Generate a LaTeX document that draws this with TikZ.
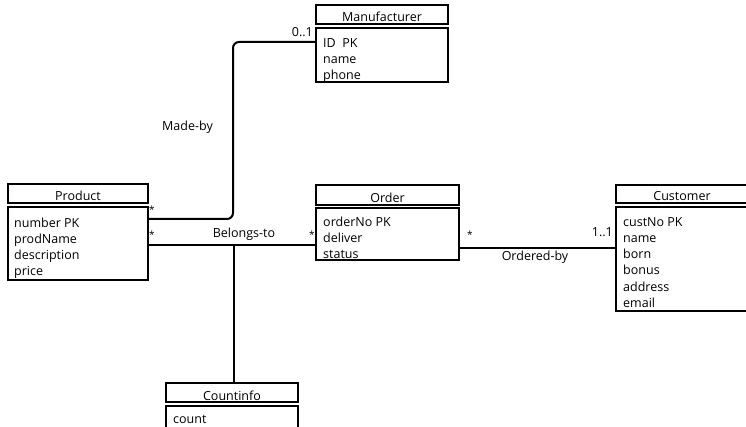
\documentclass[tikz,border=0pt]{standalone}
\usepackage{fontspec}
\setmainfont{Open Sans}
\begin{document}
\begin{tikzpicture}[x=1pt,y=-1pt,
  box/.style={draw, line width=2.5pt, rectangle, inner sep=0pt, outer sep=0pt, anchor=north west},
  txt/.style={inner sep=0pt, anchor=base west, font=\fontsize{12.5}{15}\selectfont},
  ttl/.style={inner sep=0pt, anchor=base, font=\fontsize{12.5}{15}\selectfont},
  lbl/.style={inner sep=0pt, font=\fontsize{12.5}{15}\selectfont},
  star/.style={inner sep=0pt, font=\fontsize{10}{12}\selectfont},
  conn/.style={draw, line width=2pt}]
\useasboundingbox (0,0) rectangle (746,427);
\clip (0,0) rectangle (746,427);
% Product
\node[box, minimum width=140pt, minimum height=19pt] (ph) at (8,184) {};
\node[box, minimum width=140pt, minimum height=73pt] (pb) at (8,207) {};
\node[ttl] (pt) at (78,201) {Product};
\node[txt] (p1) at (14,228) {number PK};
\node[txt] (p2) at (14,244) {prodName};
\node[txt] (p3) at (14,260) {description};
\node[txt] (p4) at (14,276) {price};
% Manufacturer
\node[box, minimum width=132pt, minimum height=19pt] (mh) at (316,5) {};
\node[box, minimum width=132pt, minimum height=54pt] (mb) at (316,28) {};
\node[ttl] (mt) at (382,22) {Manufacturer};
\node[txt] (m1) at (323,48) {ID\ \ PK};
\node[txt] (m2) at (323,64) {name};
\node[txt] (m3) at (323,80) {phone};
% Order
\node[box, minimum width=143pt, minimum height=20pt] (oh) at (316,185) {};
\node[box, minimum width=143pt, minimum height=52pt] (ob) at (316,208) {};
\node[ttl] (ot) at (387.5,203) {Order};
\node[txt] (o1) at (323,227) {orderNo PK};
\node[txt] (o2) at (323,243) {deliver};
\node[txt] (o3) at (323,259) {status};
% Customer
\node[box, minimum width=132pt, minimum height=18pt] (ch) at (616,185) {};
\node[box, minimum width=132pt, minimum height=104pt] (cb) at (616,207) {};
\node[ttl] (ct) at (682,201) {Customer};
\node[txt] (c1) at (623,227) {custNo PK};
\node[txt] (c2) at (623,243) {name};
\node[txt] (c3) at (623,259) {born};
\node[txt] (c4) at (623,275) {bonus};
\node[txt] (c5) at (623,291) {address};
\node[txt] (c6) at (623,307) {email};
% Countinfo
\node[box, minimum width=132pt, minimum height=19pt] (kh) at (166,383) {};
\node[box, minimum width=132pt, minimum height=26pt] (kb) at (166,406) {};
\node[ttl] (kt) at (232,400) {Countinfo};
\node[txt] (k1) at (173,423) {count};
% Made-by
\coordinate (mbA) at (233,219);
\coordinate (mbB) at (233,42);
\draw[conn, rounded corners=6pt] (pb.east |- mbA) -- (mbA) -- (mbB) -- (mb.west |- mbB);
\node[lbl, anchor=base west] (lmb) at (162,131) {Made-by};
\node[lbl, anchor=base east] (l01) at (313,37) {0..1};
\node[star, anchor=center] (s1) at (152,210) {*};
% Belongs-to
\coordinate (btA) at (234,245);
\draw[conn] (pb.east |- btA) -- (ob.west |- btA);
\draw[conn] (btA) -- (btA |- kh.north);
\node[lbl, anchor=base] (lbt) at (244,238) {Belongs-to};
\node[star, anchor=center] (s2) at (152,235) {*};
\node[star, anchor=center] (s3) at (312,235) {*};
% Ordered-by
\coordinate (obA) at (500,248);
\draw[conn] (ob.east |- obA) -- (cb.west |- obA);
\node[lbl, anchor=base] (lob) at (535,261) {Ordered-by};
\node[star, anchor=center] (s4) at (470,235) {*};
\node[lbl, anchor=base east] (l11) at (613,237) {1..1};
\end{tikzpicture}
\end{document}
